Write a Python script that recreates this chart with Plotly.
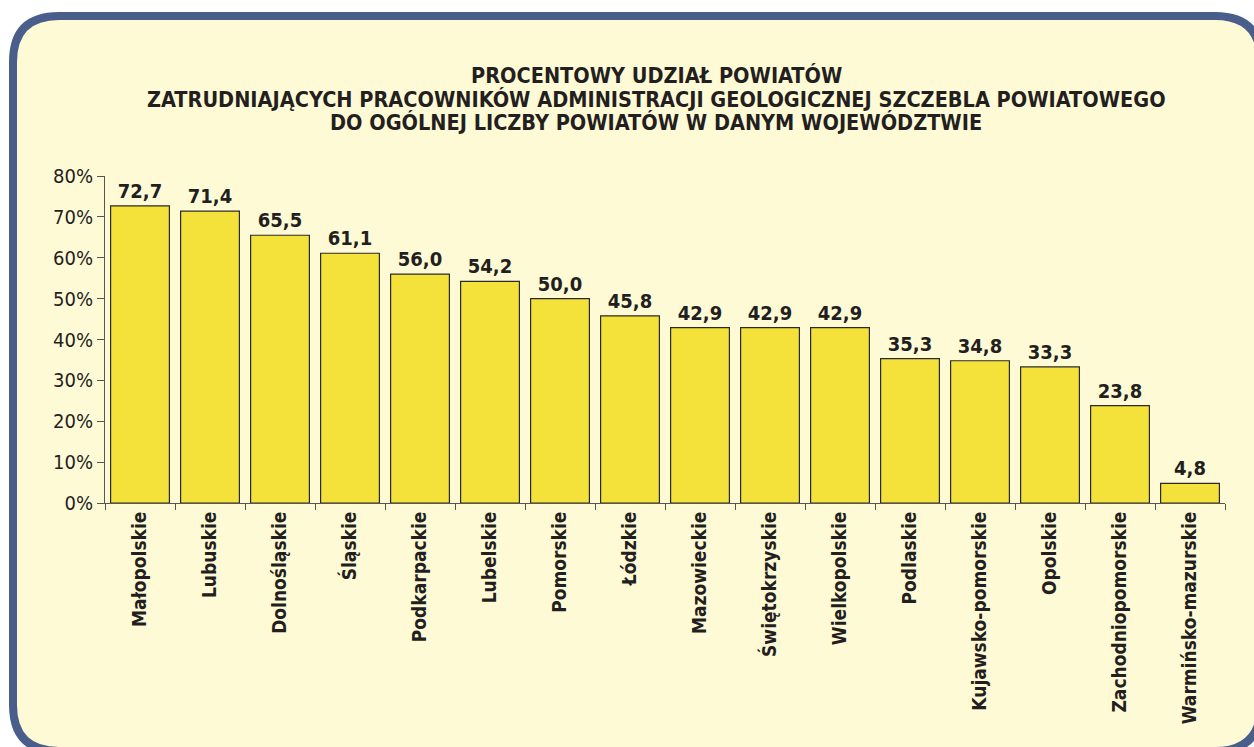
import plotly.graph_objects as go

categories = ["Małopolskie", "Lubuskie", "Dolnośląskie", "Śląskie", "Podkarpackie",
              "Lubelskie", "Pomorskie", "Łódzkie", "Mazowieckie", "Świętokrzyskie",
              "Wielkopolskie", "Podlaskie", "Kujawsko-pomorskie", "Opolskie",
              "Zachodniopomorskie", "Warmińsko-mazurskie"]
values = [72.7, 71.4, 65.5, 61.1, 56.0, 54.2, 50.0, 45.8, 42.9, 42.9, 42.9,
          35.3, 34.8, 33.3, 23.8, 4.8]
y_ticks = [0, 10, 20, 30, 40, 50, 60, 70, 80]
y_tick_labels = [f"{v}%" for v in y_ticks]
title_lines = ["PROCENTOWY UDZIAŁ POWIATÓW",
               "ZATRUDNIAJĄCYCH PRACOWNIKÓW ADMINISTRACJI GEOLOGICZNEJ SZCZEBLA POWIATOWEGO",
               "DO OGÓLNEJ LICZBY POWIATÓW W DANYM WOJEWÓDZTWIE"]

W, H = 1254, 747
L, R, T, B = 105, 1254 - 1225, 176, 747 - 503
FONT = "Liberation Sans Narrow, DejaVu Sans Condensed, Arial Narrow, sans-serif"
TXT = "#231f20"

labels = [f"{v:.1f}".replace(".", ",") for v in values]

fig = go.Figure(go.Bar(
    x=categories, y=values, text=labels, textposition="outside",
    textfont=dict(family=FONT, size=20, color=TXT, weight="bold"),
    marker=dict(color="#f4e23a", line=dict(color="#2a2a2a", width=1.2)),
    cliponaxis=False, width=0.84,
))

pw, ph = W - L - R, H - T - B
def px(x): return (x - L) / pw          # screen px -> paper x
def py(y): return (H - B - y) / ph      # screen px -> paper y

x0, y0, x1, y1, r = 13, 16, 1261, 751, 46
path = (f"M {px(x0+r)} {py(y0)} L {px(x1-r)} {py(y0)} Q {px(x1)} {py(y0)} {px(x1)} {py(y0+r)} "
        f"L {px(x1)} {py(y1-r)} Q {px(x1)} {py(y1)} {px(x1-r)} {py(y1)} "
        f"L {px(x0+r)} {py(y1)} Q {px(x0)} {py(y1)} {px(x0)} {py(y1-r)} "
        f"L {px(x0)} {py(y0+r)} Q {px(x0)} {py(y0)} {px(x0+r)} {py(y0)} Z")
fig.add_shape(type="path", path=path, xref="paper", yref="paper", layer="below",
              fillcolor="#fffad6", line=dict(color="#4a5e8c", width=8))

for line, yc in zip(title_lines, [76, 99, 122]):
    fig.add_annotation(text=line, xref="paper", yref="paper", x=px(656), y=py(yc),
                       xanchor="center", yanchor="middle", showarrow=False,
                       font=dict(family=FONT, size=21.5, color=TXT, weight="bold"))

fig.update_layout(
    width=W, height=H,
    margin=dict(l=L, r=R, t=T, b=B),
    paper_bgcolor="white", plot_bgcolor="rgba(0,0,0,0)",
    showlegend=False,
    xaxis=dict(tickangle=-90, tickson="boundaries", ticks="outside", ticklen=6,
               tickcolor="#555555", showline=True, linecolor="#555555", linewidth=1,
               tickfont=dict(family=FONT, size=19, color=TXT, weight="bold"),
               showgrid=False, range=[-0.5, len(categories) - 0.5]),
    yaxis=dict(range=[0, 80], tickvals=y_ticks, ticktext=y_tick_labels,
               ticks="outside", ticklen=7, tickcolor="#555555",
               showline=True, linecolor="#555555", linewidth=1, showgrid=False,
               zeroline=False,
               tickfont=dict(family=FONT, size=20, color=TXT)),
)

fig.write_html("out.html", config={"displayModeBar": False},
               post_script="document.body.style.margin='0';document.body.style.overflow='hidden';")
